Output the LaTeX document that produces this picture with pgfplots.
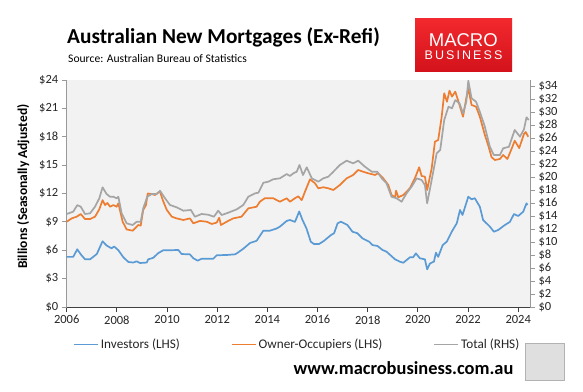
\documentclass[border=0pt]{standalone}
\usepackage{pgfplots}
\pgfplotsset{compat=1.18}
\usepackage{fontspec}
\setmainfont{Carlito}
\newfontfamily\logofont{Liberation Sans}
\definecolor{inv}{HTML}{5B9BD5}
\definecolor{own}{HTML}{ED7D31}
\definecolor{tot}{HTML}{A5A5A5}
\definecolor{plotbg}{HTML}{F2F2F2}
\definecolor{logotop}{HTML}{F2292E}
\definecolor{logobot}{HTML}{D3121B}
\begin{document}
\begin{tikzpicture}
\useasboundingbox (0pt,0pt) rectangle (583pt,391pt);
\fill[white] (0pt,0pt) rectangle (583pt,391pt);
% title block
\node[anchor=base west, inner sep=0, font=\bfseries\fontsize{21.3}{24}\selectfont] at (67pt,347.7pt) {Australian New Mortgages (Ex-Refi)};
\node[anchor=base west, inner sep=0, font=\fontsize{11.6}{13}\selectfont] at (68pt,328.3pt) {Source: Australian Bureau of Statistics};
% logo
\shade[top color=logotop, bottom color=logobot] (415pt,372.7pt) rectangle (512pt,319.3pt);
\node[anchor=base, inner sep=0, text=white, font=\logofont\fontsize{18.5}{20}\selectfont] at (463.3pt,344.3pt) {MACRO};
\node[anchor=base, inner sep=0, text=white, font=\logofont\fontsize{12.5}{14}\selectfont] at (463.5pt,331pt) {B\,U\,S\,I\,N\,E\,S\,S};
% footer
\node[anchor=base west, inner sep=0, font=\bfseries\fontsize{18.4}{20}\selectfont] at (293.4pt,17pt) {www.macrobusiness.com.au};
\filldraw[fill=gray!25, draw=gray!60, line width=1pt] (525.5pt,11pt) rectangle (564.5pt,48pt);

\begin{axis}[
  at={(66.7pt,84pt)}, anchor=south west, scale only axis,
  width=463.3pt, height=227pt,
  xmin=2006, xmax=2024.47, ymin=0, ymax=24,
  axis background/.style={fill=plotbg},
  axis x line*=bottom, axis y line*=left,
  x axis line style={draw=black!75, line width=0.8pt},
  y axis line style={draw=black!40, line width=0.8pt},
  xtick={2006,2008,...,2024},
  xticklabels={2006,2008,2010,2012,2014,2016,2018,2020,2022,2024},
  ytick={0,3,...,24},
  yticklabels={\$0,\$3,\$6,\$9,\$12,\$15,\$18,\$21,\$24},
  tick align=outside, major tick length=5pt,
  x tick style={draw=black!75, line width=0.8pt},
  y tick style={draw=black!40, line width=0.8pt},
  ticklabel style={font=\fontsize{12.5}{13}\selectfont, text=black!85},
  every axis y label/.style={at={(axis description cs:0,0.53)}, xshift=-43.4pt, rotate=90, anchor=center, font=\bfseries\fontsize{13.5}{14}\selectfont},
  ylabel={Billions (Seasonally Adjusted)},
  legend style={at={(axis description cs:0.0136,-0.165)}, anchor=west, draw=none, fill=none,
    font=\fontsize{13.2}{14}\selectfont, text=black!85, inner xsep=0pt, inner ysep=0pt,
    /tikz/every even column/.append style={column sep=49pt}},
  legend columns=3,
  legend image code/.code={\draw[#1, line width=1.7pt] (0pt,0pt) -- (24pt,0pt);},
  line join=round,
]
\addplot[inv, line width=1.7pt] coordinates {
(2006.00,5.3) (2006.26,5.3) (2006.42,6.1) (2006.56,5.57) (2006.73,5.04) (2006.93,5.04) (2007.20,5.6) (2007.43,6.95) (2007.59,6.5) (2007.79,6.2) (2007.89,6.4) (2008.06,6.0) (2008.26,5.25) (2008.46,4.76) (2008.65,4.7) (2008.79,4.83) (2008.92,4.65) (2009.19,4.7) (2009.25,5.04) (2009.45,5.2) (2009.65,5.7) (2009.85,6.0) (2010.12,6.0) (2010.45,6.03) (2010.58,5.6) (2010.91,5.57) (2011.05,5.15) (2011.22,4.9) (2011.38,5.1) (2011.58,5.1) (2011.84,5.1) (2011.98,5.47) (2012.38,5.5) (2012.71,5.57) (2012.78,5.67) (2013.04,6.16) (2013.31,6.77) (2013.57,7.0) (2013.84,8.07) (2014.10,8.07) (2014.37,8.3) (2014.50,8.5) (2014.77,9.1) (2014.90,9.2) (2015.10,9.0) (2015.27,10.1) (2015.40,9.2) (2015.56,8.3) (2015.73,6.9) (2015.86,6.66) (2016.06,6.66) (2016.26,7.0) (2016.53,7.6) (2016.66,7.8) (2016.80,8.85) (2016.93,9.02) (2017.06,8.85) (2017.19,8.67) (2017.39,7.96) (2017.59,7.8) (2017.79,7.26) (2018.06,6.9) (2018.19,6.55) (2018.39,6.45) (2018.59,6.03) (2018.75,5.85) (2019.09,5.04) (2019.28,4.79) (2019.42,4.68) (2019.68,5.25) (2019.81,5.25) (2019.92,5.67) (2020.08,5.15) (2020.28,5.04) (2020.37,3.98) (2020.48,4.6) (2020.64,4.8) (2020.72,5.74) (2020.81,5.3) (2020.99,6.55) (2021.15,6.9) (2021.35,7.96) (2021.55,8.85) (2021.68,10.26) (2021.78,9.73) (2022.01,11.66) (2022.14,11.39) (2022.27,11.5) (2022.47,10.6) (2022.60,9.2) (2022.87,8.5) (2023.03,7.96) (2023.20,8.14) (2023.47,8.67) (2023.67,9.0) (2023.83,9.83) (2024.00,9.62) (2024.20,10.08) (2024.33,10.96) (2024.37,10.78)
};
\addlegendentry{Investors (LHS)}
\addplot[own, line width=1.7pt] coordinates {
(2006.00,9.02) (2006.20,9.37) (2006.40,9.55) (2006.56,9.83) (2006.73,9.3) (2006.93,9.3) (2007.13,9.55) (2007.30,10.33) (2007.43,11.3) (2007.53,10.78) (2007.62,11.0) (2007.73,10.6) (2007.86,10.78) (2007.99,10.6) (2008.06,10.96) (2008.12,10.26) (2008.23,9.02) (2008.39,8.2) (2008.63,8.07) (2008.72,8.3) (2008.85,8.67) (2008.95,8.6) (2009.05,10.26) (2009.16,10.78) (2009.23,12.0) (2009.39,11.95) (2009.52,11.84) (2009.65,12.1) (2009.72,12.2) (2009.83,11.3) (2009.99,10.26) (2010.19,9.55) (2010.38,9.37) (2010.65,9.2) (2010.91,9.37) (2011.05,8.85) (2011.31,9.1) (2011.58,9.02) (2011.78,8.78) (2011.98,8.92) (2012.08,9.44) (2012.15,8.67) (2012.38,9.02) (2012.64,9.37) (2012.97,9.55) (2013.24,10.43) (2013.57,10.6) (2013.70,11.13) (2013.90,11.5) (2014.23,11.5) (2014.50,11.13) (2014.77,11.5) (2014.90,11.13) (2015.10,11.5) (2015.23,11.7) (2015.37,11.3) (2015.50,12.2) (2015.70,13.5) (2015.90,13.08) (2016.03,12.55) (2016.23,12.66) (2016.43,12.55) (2016.63,12.37) (2016.89,12.9) (2017.16,13.6) (2017.42,13.96) (2017.62,14.49) (2017.82,14.3) (2018.02,14.14) (2018.29,13.96) (2018.42,14.14) (2018.62,13.6) (2018.82,12.9) (2018.95,11.84) (2019.09,11.6) (2019.13,12.3) (2019.22,11.6) (2019.42,11.84) (2019.68,12.55) (2019.88,13.6) (2020.05,14.77) (2020.15,13.85) (2020.28,13.78) (2020.37,12.37) (2020.55,14.66) (2020.68,17.48) (2020.81,17.66) (2020.95,20.12) (2021.05,22.6) (2021.16,21.7) (2021.26,22.87) (2021.36,22.24) (2021.49,22.77) (2021.62,21.7) (2021.80,20.12) (2021.93,22.07) (2022.01,23.12) (2022.14,21.36) (2022.32,21.18) (2022.47,20.12) (2022.67,18.19) (2022.80,17.13) (2022.94,15.83) (2023.07,15.54) (2023.27,15.65) (2023.40,16.07) (2023.57,15.65) (2023.77,16.95) (2023.86,17.58) (2024.04,16.8) (2024.23,18.3) (2024.30,18.5) (2024.40,18.0)
};
\addlegendentry{Owner-Occupiers (LHS)}
\addlegendimage{tot, line width=1.7pt}
\addlegendentry{Total (RHS)}
\end{axis}

\begin{axis}[
  at={(66.7pt,84pt)}, anchor=south west, scale only axis,
  width=463.3pt, height=227pt,
  xmin=2006, xmax=2024.47, ymin=0, ymax=35,
  axis x line=none, axis y line*=right,
  y axis line style={draw=black!40, line width=0.8pt},
  ytick={0,2,...,34},
  yticklabels={\$0,\$2,\$4,\$6,\$8,\$10,\$12,\$14,\$16,\$18,\$20,\$22,\$24,\$26,\$28,\$30,\$32,\$34},
  tick align=outside, major tick length=5pt,
  y tick style={draw=black!40, line width=0.8pt},
  ticklabel style={font=\fontsize{12.5}{13}\selectfont, text=black!85},
  line join=round,
]
\addplot[tot, line width=1.7pt] coordinates {
(2006.00,14.34) (2006.26,14.7) (2006.42,15.7) (2006.56,15.47) (2006.73,14.34) (2006.93,14.44) (2007.13,15.47) (2007.30,16.76) (2007.43,18.45) (2007.59,17.42) (2007.73,17.0) (2007.86,17.0) (2007.99,16.76) (2008.06,17.0) (2008.19,14.44) (2008.39,12.9) (2008.63,12.64) (2008.79,13.15) (2008.95,13.15) (2009.05,15.2) (2009.21,17.0) (2009.39,17.42) (2009.59,17.42) (2009.72,17.93) (2009.92,16.76) (2010.12,15.73) (2010.38,15.37) (2010.65,14.85) (2010.95,14.96) (2011.11,13.92) (2011.38,14.34) (2011.64,14.23) (2011.87,13.92) (2012.04,14.85) (2012.18,14.18) (2012.44,14.54) (2012.78,15.06) (2013.04,15.73) (2013.24,17.0) (2013.51,17.53) (2013.64,17.62) (2013.84,19.16) (2014.04,19.32) (2014.23,19.69) (2014.50,19.84) (2014.77,20.5) (2014.90,20.2) (2015.03,20.6) (2015.17,20.86) (2015.28,21.9) (2015.42,20.35) (2015.57,21.54) (2015.77,19.84) (2016.03,19.32) (2016.23,19.84) (2016.43,20.09) (2016.63,20.86) (2016.89,21.9) (2017.16,22.56) (2017.42,22.15) (2017.62,22.56) (2017.89,21.63) (2018.16,20.86) (2018.38,20.86) (2018.56,19.84) (2018.75,19.07) (2018.95,17.0) (2019.15,16.76) (2019.35,16.24) (2019.55,17.53) (2019.75,18.55) (2019.95,19.84) (2020.15,19.58) (2020.28,18.81) (2020.37,15.99) (2020.55,19.58) (2020.75,23.7) (2020.89,24.2) (2021.05,28.83) (2021.22,30.88) (2021.36,30.63) (2021.49,31.9) (2021.66,31.4) (2021.80,29.86) (2021.93,31.65) (2022.01,34.9) (2022.14,32.18) (2022.32,31.65) (2022.47,30.1) (2022.67,27.8) (2022.87,24.7) (2023.03,23.43) (2023.27,23.43) (2023.40,24.47) (2023.63,24.7) (2023.86,27.3) (2024.07,26.26) (2024.23,27.4) (2024.33,29.25) (2024.42,28.83)
};
\end{axis}
\end{tikzpicture}
\end{document}
